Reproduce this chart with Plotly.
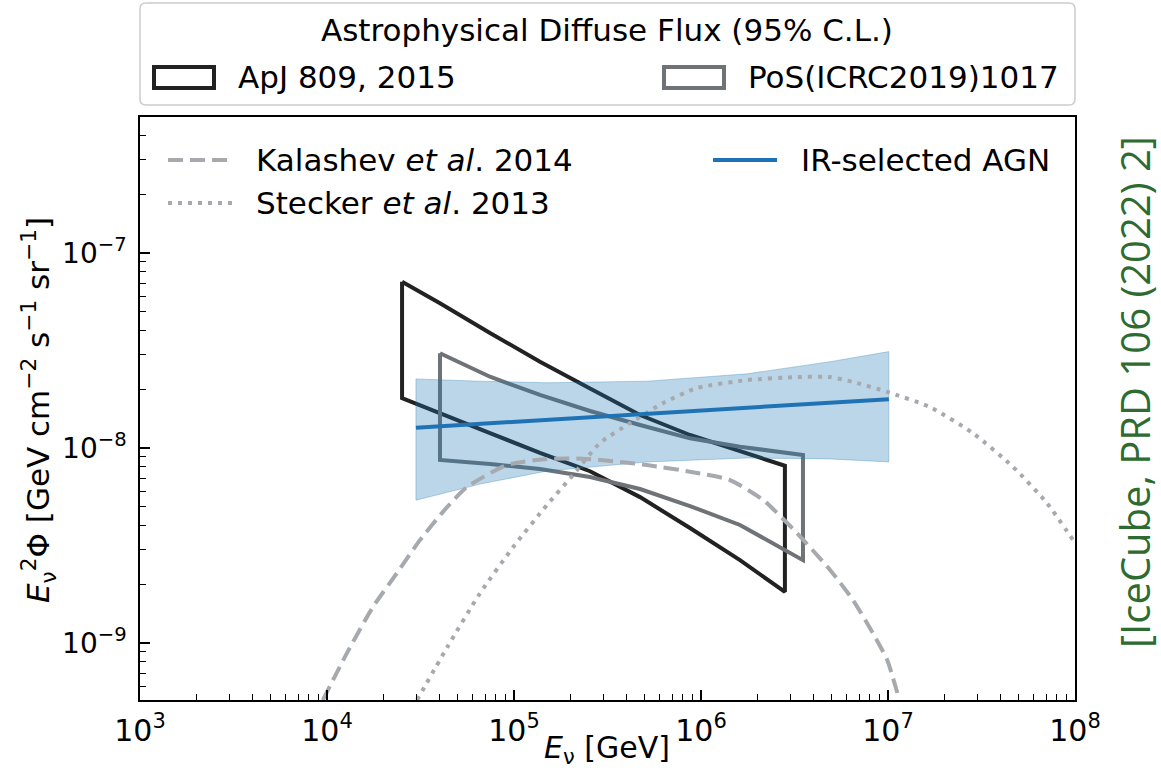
import plotly.graph_objects as go

# ---------------- data ----------------
# IceCube ApJ 809 (2015) butterfly: energy [GeV] and E^2 flux [GeV cm^-2 s^-1 sr^-1]
apj_E = [2.52e4, 4.02e4, 7.44e4, 1.377e5, 2.55e5, 4.72e5, 8.73e5, 1.616e6, 2.81e6]
apj_upper = [7.12e-8, 5.52e-8, 3.89e-8, 2.77e-8, 2.02e-8, 1.476e-8, 1.166e-8, 9.57e-9, 8.11e-9]
apj_lower = [1.80e-8, 1.511e-8, 1.193e-8, 9.43e-9, 7.6e-9, 5.6e-9, 3.89e-9, 2.66e-9, 1.83e-9]

# PoS(ICRC2019)1017 butterfly
icrc_E = [4.02e4, 7.44e4, 1.377e5, 2.55e5, 4.72e5, 8.73e5, 1.616e6, 3.51e6]
icrc_upper = [3.06e-8, 2.32e-8, 1.87e-8, 1.548e-8, 1.312e-8, 1.121e-8, 1.015e-8, 9.21e-9]
icrc_lower = [8.68e-9, 8.28e-9, 7.80e-9, 7.10e-9, 6.16e-9, 5.04e-9, 4.03e-9, 2.66e-9]

# IR-selected AGN best fit and band
agn_E = [2.99e4, 1.01e7]
agn_flux = [1.27e-8, 1.78e-8]
agn_band_E = [2.99e4, 6.58e4, 1.5e5, 5.14e5, 1.76e6, 4.9e6, 1.01e7]
agn_band_upper = [2.26e-8, 2.20e-8, 2.16e-8, 2.20e-8, 2.40e-8, 2.77e-8, 3.12e-8]
agn_band_lower = [5.4e-9, 6.53e-9, 7.62e-9, 8.48e-9, 8.89e-9, 8.79e-9, 8.48e-9]

# Kalashev et al. 2014
kal_E = [9.5e3, 1.28e4, 1.76e4, 2.37e4, 3.14e4, 4.39e4, 5.61e4, 9.18e4, 1.5e5,
         2.45e5, 5.14e5, 9.53e5, 1.43e6, 2.15e6, 3.26e6, 4.9e6, 6.5e6, 8.32e6,
         9.89e6, 1.15e7]
kal_flux = [5.1e-10, 8.9e-10, 1.53e-9, 2.29e-9, 3.37e-9, 4.98e-9, 6.31e-9,
            8.18e-9, 8.79e-9, 8.79e-9, 8.18e-9, 7.45e-9, 6.85e-9, 5.41e-9,
            3.66e-9, 2.37e-9, 1.66e-9, 1.12e-9, 8.2e-10, 5.1e-10]

# Stecker et al. 2013
ste_E = [3.03e4, 4.39e4, 6.58e4, 9.89e4, 1.5e5, 2.07e5, 2.88e5, 4.17e5, 6.27e5,
         9.53e5, 1.76e6, 3.26e6, 4.9e6, 6.5e6, 9.89e6, 1.68e7, 2.85e7, 4.66e7,
         7.08e7, 1.0e8]
ste_flux = [5.1e-10, 9.5e-10, 1.8e-9, 3.1e-9, 5.1e-9, 7.28e-9, 1.06e-8,
            1.34e-8, 1.70e-8, 2.03e-8, 2.23e-8, 2.31e-8, 2.31e-8, 2.18e-8,
            1.94e-8, 1.62e-8, 1.19e-8, 8.0e-9, 5.22e-9, 3.26e-9]

x_tick_vals = [1e3, 1e4, 1e5, 1e6, 1e7, 1e8]
x_tick_text = ["10<sup>3</sup>", "10<sup>4</sup>", "10<sup>5</sup>",
               "10<sup>6</sup>", "10<sup>7</sup>", "10<sup>8</sup>"]
y_tick_vals = [1e-9, 1e-8, 1e-7]
y_tick_text = ["10<sup>\u22129</sup>", "10<sup>\u22128</sup>", "10<sup>\u22127</sup>"]

# minor ticks at 2..9 of every decade
x_minor = [m * 10 ** d for d in range(3, 8) for m in range(2, 10)]
y_minor = [m * 10 ** d for d in range(-10, -6) for m in range(2, 10)]

# ---------------- styles ----------------
BLACK = "#222222"
GRAY = "#6f7276"
BLUE = "#1f72b4"
THEORY = "#a6aaae"
FONT = "DejaVu Sans"

W, H = 1161, 777
L, R, T, B = 140, 86, 117, 77
PW, PH = W - L - R, H - T - B


def px(xp):
    return (xp - L) / PW


def py(yp):
    return (H - B - yp) / PH


def closed(E, up, lo):
    xs = list(E) + list(reversed(E)) + [E[0]]
    ys = list(up) + list(reversed(lo)) + [up[0]]
    return xs, ys


fig = go.Figure()

bx, by = closed(apj_E, apj_upper, apj_lower)
fig.add_trace(go.Scatter(x=bx, y=by, mode="lines",
                         line=dict(color=BLACK, width=4), showlegend=False))
gx, gy = closed(icrc_E, icrc_upper, icrc_lower)
fig.add_trace(go.Scatter(x=gx, y=gy, mode="lines",
                         line=dict(color=GRAY, width=4), showlegend=False))

ax_, ay_ = closed(agn_band_E, agn_band_upper, agn_band_lower)
fig.add_trace(go.Scatter(x=ax_, y=ay_, mode="lines", fill="toself",
                         fillcolor="rgba(31,119,180,0.3)",
                         line=dict(color="rgba(31,119,180,0.3)", width=1),
                         showlegend=False))

fig.add_trace(go.Scatter(x=kal_E, y=kal_flux, mode="lines",
                         line=dict(color=THEORY, width=4, dash="15px,7px",
                                   shape="spline", smoothing=0.6),
                         showlegend=False))
fig.add_trace(go.Scatter(x=ste_E, y=ste_flux, mode="lines",
                         line=dict(color=THEORY, width=4, dash="4px,6px",
                                   shape="spline", smoothing=0.6),
                         showlegend=False))
fig.add_trace(go.Scatter(x=agn_E, y=agn_flux, mode="lines",
                         line=dict(color=BLUE, width=4), showlegend=False))

shapes = []
annotations = []

# outer legend box above the axes
x0, x1, y0, y1 = px(140), px(1075), py(105), py(3)
rx, ry = 6 / PW, 6 / PH
path = (f"M{x0+rx},{y0} L{x1-rx},{y0} Q{x1},{y0} {x1},{y0+ry} "
        f"L{x1},{y1-ry} Q{x1},{y1} {x1-rx},{y1} L{x0+rx},{y1} "
        f"Q{x0},{y1} {x0},{y1-ry} L{x0},{y0+ry} Q{x0},{y0} {x0+rx},{y0} Z")
shapes.append(dict(type="path", xref="paper", yref="paper", path=path,
                   line=dict(color="#cccccc", width=1.5), fillcolor="white"))
annotations.append(dict(x=px(607), y=py(30), xref="paper", yref="paper",
                        text="Astrophysical Diffuse Flux (95% C.L.)",
                        showarrow=False, font=dict(family=FONT, size=31, color="black"),
                        xanchor="center", yanchor="middle"))
for (lx, col, label) in [(152, BLACK, "ApJ 809, 2015"),
                         (662, GRAY, "PoS(ICRC2019)1017")]:
    shapes.append(dict(type="rect", xref="paper", yref="paper",
                       x0=px(lx + 2), x1=px(lx + 62), y0=py(88), y1=py(67),
                       line=dict(color=col, width=4), fillcolor="white"))
    annotations.append(dict(x=px(lx + 84), y=py(77), xref="paper", yref="paper",
                            text=label, showarrow=False,
                            font=dict(family=FONT, size=31, color="black"),
                            xanchor="left", yanchor="middle"))

# legend inside the axes
inner = [(168, 160, THEORY, "15px,7px", "Kalashev <i>et al</i>. 2014"),
         (168, 203, THEORY, "4px,6px", "Stecker <i>et al</i>. 2013"),
         (713, 160, BLUE, "solid", "IR-selected AGN")]
for (lx, ly, col, dash, label) in inner:
    shapes.append(dict(type="line", xref="paper", yref="paper",
                       x0=px(lx), x1=px(lx + 64), y0=py(ly), y1=py(ly),
                       line=dict(color=col, width=4, dash=dash)))
    annotations.append(dict(x=px(lx + 86), y=py(ly), xref="paper", yref="paper",
                            text=label, showarrow=False,
                            font=dict(family=FONT, size=31, color="black"),
                            xanchor="left", yanchor="middle"))

# axis titles
annotations.append(dict(x=px(38), y=py(410), xref="paper", yref="paper",
                        text="<i>E</i><sub>\u03bd</sub><sup>2</sup>\u03a6 [GeV cm<sup>\u22122</sup> s<sup>\u22121</sup> sr<sup>\u22121</sup>]",
                        textangle=-90, showarrow=False,
                        font=dict(family=FONT, size=31, color="black"),
                        xanchor="center", yanchor="middle"))
annotations.append(dict(x=px(607), y=py(749), xref="paper", yref="paper",
                        text="<i>E</i><sub>\u03bd</sub> [GeV]", showarrow=False,
                        font=dict(family=FONT, size=30, color="black"),
                        xanchor="center", yanchor="middle"))
# reference tag on the right
annotations.append(dict(x=px(1134), y=py(392), xref="paper", yref="paper",
                        text="[IceCube, PRD 106 (2022) 2]", textangle=-90,
                        showarrow=False,
                        font=dict(family="Open Sans", size=40, color="#2e6b30"),
                        xanchor="center", yanchor="middle"))

axis_common = dict(type="log", showgrid=False, zeroline=False,
                   showline=True, linecolor="black", linewidth=1.5, mirror=True,
                   ticks="inside", ticklen=10, tickwidth=1.5, tickcolor="black")

fig.update_layout(
    width=W, height=H,
    margin=dict(l=L, r=R, t=T, b=B, pad=0),
    paper_bgcolor="white", plot_bgcolor="white",
    showlegend=False,
    xaxis=dict(range=[3, 8], tickvals=x_tick_vals, ticktext=x_tick_text,
               tickfont=dict(family=FONT, size=30, color="black"),
               ticklabelstandoff=3,
               minor=dict(tickmode="array", tickvals=x_minor, ticks="inside",
                          ticklen=6, tickwidth=1, tickcolor="black", showgrid=False),
               **axis_common),
    yaxis=dict(range=[-9.292, -6.303], tickvals=y_tick_vals, ticktext=y_tick_text,
               tickfont=dict(family=FONT, size=28, color="black"),
               ticklabelstandoff=6,
               minor=dict(tickmode="array", tickvals=y_minor, ticks="inside",
                          ticklen=6, tickwidth=1, tickcolor="black", showgrid=False),
               **axis_common),
    shapes=shapes, annotations=annotations,
)

fig.write_html("out.html")
